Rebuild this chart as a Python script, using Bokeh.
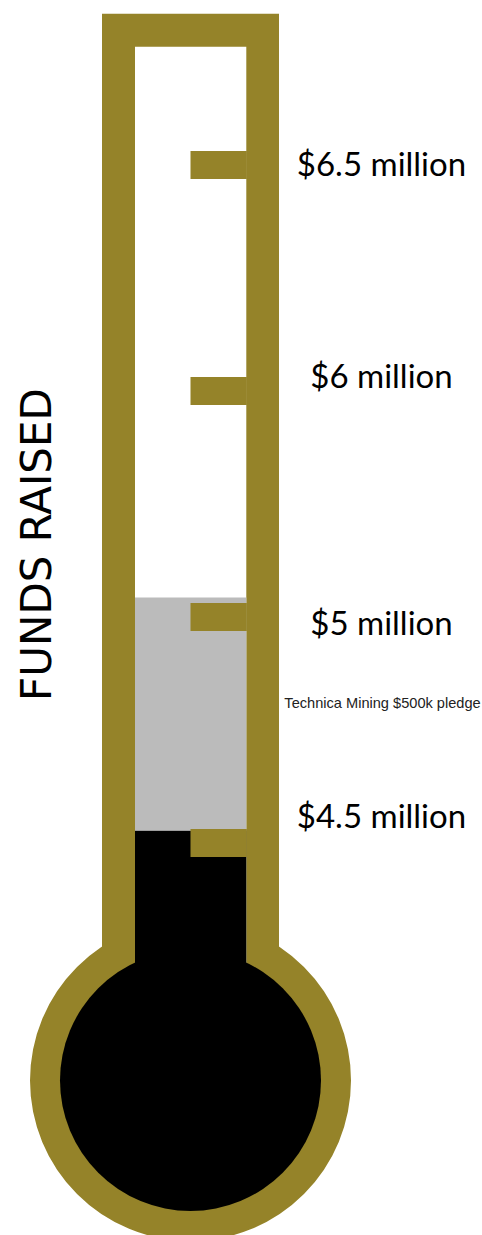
import math
from bokeh.plotting import figure
from bokeh.models import Range1d
from bokeh.core.properties import value
from bokeh.embed import file_html
from bokeh.resources import INLINE

# ---- data ----
tick_labels = ["$6.5 million", "$6 million", "$5 million", "$4.5 million"]
tick_levels = [3, 2, 1, 0]          # evenly spaced marks on the thermometer
raised_level = 0.055                # black fill (funds raised)
pledged_level = 1.086               # grey fill (incl. pledge)
pledge_note = "Technica Mining $500k pledge"
title_text = "FUNDS RAISED"

# ---- layout (pixel x, level-unit y) ----
W, H = 482, 1235
PX_PER_LEVEL = 226.0
Y_TOP = 842.5 / PX_PER_LEVEL
Y_BOT = Y_TOP - H / PX_PER_LEVEL

def lv(px):
    """picture y (pixels from top) -> level units"""
    return Y_TOP - px / PX_PER_LEVEL

GOLD = "#958329"
GREY = "#BBBBBB"
CX = 190.0
OUT_L, OUT_R = 101.5, 278.5
IN_L, IN_R = 134.5, 245.8
TUBE_BOTTOM = lv(1000)
BULB_Y = lv(1080)

p = figure(width=W, height=H, x_range=Range1d(0, W), y_range=Range1d(Y_BOT, Y_TOP),
           output_backend="svg", toolbar_location=None, min_border=0,
           x_axis_location=None, y_axis_location=None)
p.grid.visible = False
p.outline_line_color = None
p.background_fill_color = "white"
p.border_fill_color = "white"

# outer shell
p.circle(x=[CX], y=[BULB_Y], radius=160.5, fill_color=GOLD, line_color=None)
p.quad(left=[OUT_L], right=[OUT_R], top=[lv(13.3)], bottom=[TUBE_BOTTOM], fill_color=GOLD, line_color=None)
# inner tube
p.quad(left=[IN_L], right=[IN_R], top=[lv(46.3)], bottom=[TUBE_BOTTOM], fill_color="white", line_color=None)
# bulb
p.circle(x=[CX], y=[BULB_Y], radius=130.5, fill_color="black", line_color=None)
# fills
p.quad(left=[IN_L], right=[IN_R], top=[raised_level], bottom=[TUBE_BOTTOM], fill_color="black", line_color=None)
p.quad(left=[IN_L], right=[IN_R], top=[pledged_level], bottom=[raised_level], fill_color=GREY, line_color=None)

# tick marks
half = 14.0 / PX_PER_LEVEL
p.quad(left=[190.0] * len(tick_levels), right=[IN_R + 0.5] * len(tick_levels),
       top=[t + half for t in tick_levels], bottom=[t - half for t in tick_levels],
       fill_color=GOLD, line_color=None)

# tick labels (vertical offsets relative to marks)
label_offsets = [0.009, 0.071, -0.024, 0.122]
p.text(x=[381] * len(tick_labels), y=[t + o for t, o in zip(tick_levels, label_offsets)],
       text=tick_labels, text_align="center", text_baseline="middle",
       text_font=value("Lato"), text_font_size="33px", text_color="black")

# pledge note
p.text(x=[382], y=[lv(702)], text=[pledge_note], text_align="center", text_baseline="middle",
       text_font=value("Liberation Sans"), text_font_size="14.6px", text_color="#222222")

# vertical title
p.text(x=[35.5], y=[lv(544)], text=[title_text], angle=math.pi / 2, text_align="center",
       text_baseline="middle", text_font=value("DejaVu Sans"), text_font_size="42px",
       text_color="black")

open("out.html", "w").write(file_html(p, INLINE))
